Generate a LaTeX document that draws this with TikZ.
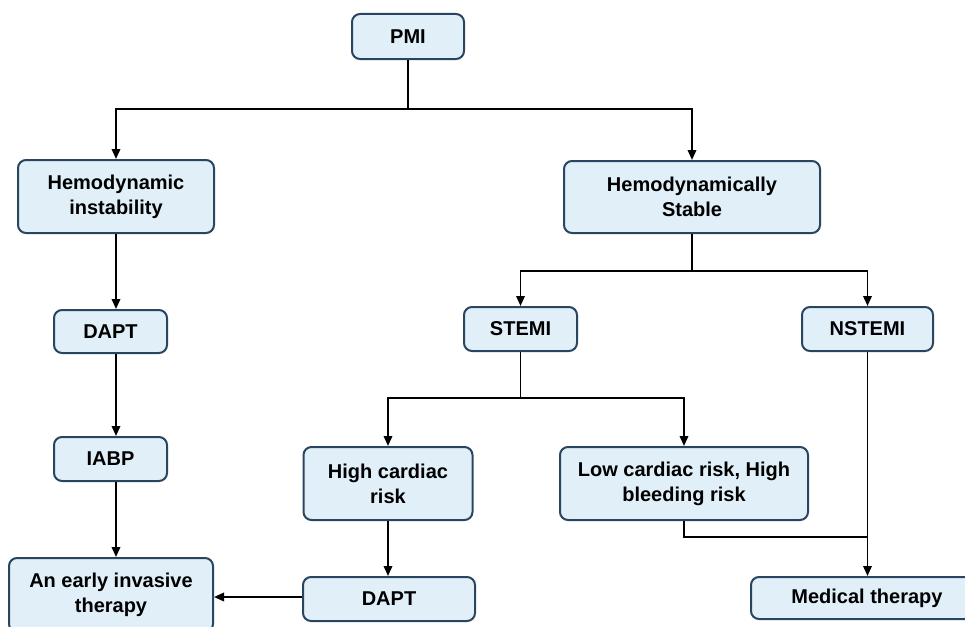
\documentclass[tikz,border=0pt]{standalone}
\usepackage{fontspec}
\setmainfont{Liberation Sans}
\usetikzlibrary{arrows.meta}
\definecolor{boxfill}{HTML}{E1F0F8}
\definecolor{boxline}{HTML}{2A4560}
\tikzset{
  box/.style={draw=boxline, line width=2pt, fill=boxfill, rounded corners=8pt,
    inner sep=0pt, align=center, font=\bfseries\fontsize{20}{25}\selectfont},
  ln/.style={line width=1.9pt, draw=black},
  arr/.style={ln, -{Triangle[length=10pt,width=8.5pt]}}
}
\begin{document}
\begin{tikzpicture}[x=1pt,y=-1pt]
\useasboundingbox (0,0) rectangle (965,626);
\node[box, minimum width=112pt, minimum height=45pt] (pmi) at (408,36.5) {PMI};
\node[box, minimum width=196pt, minimum height=73pt] (hi) at (116,196.5) {Hemodynamic\\instability};
\node[box, minimum width=256pt, minimum height=72pt] (hs) at (692,197) {Hemodynamically\\Stable};
\node[box, minimum width=113pt, minimum height=43pt] (dapt1) at (110.5,331.5) {DAPT};
\node[box, minimum width=113pt, minimum height=44pt] (stemi) at (520.5,329) {STEMI};
\node[box, minimum width=131pt, minimum height=44pt] (nstemi) at (867.5,329) {NSTEMI};
\node[box, minimum width=113pt, minimum height=44pt] (iabp) at (110.5,459) {IABP};
\node[box, minimum width=169pt, minimum height=73pt] (hc) at (388,483.5) {High cardiac\\risk};
\node[box, minimum width=248pt, minimum height=73pt] (lc) at (684,483.5) {Low cardiac risk, High\\bleeding risk};
\node[box, minimum width=204pt, minimum height=74pt] (early) at (111,595) {An early invasive\\therapy};
\node[box, minimum width=172pt, minimum height=44pt] (dapt2) at (389,599) {DAPT};
\node[box, minimum width=232pt, minimum height=42pt] (mt) at (867,598) {Medical therapy};
\coordinate (L) at (116,0);
\coordinate (b1) at (0,109);
\coordinate (b2) at (0,271);
\coordinate (b3) at (0,398);
\coordinate (b4) at (0,537);
% PMI split
\draw[ln] (pmi.south) -- (pmi.south |- b1);
\draw[arr] (pmi.south |- b1) -| (hi.north);
\draw[arr] (pmi.south |- b1) -| (hs.north);
% left chain
\draw[arr] (hi.south -| L) -- (dapt1.north -| L);
\draw[arr] (dapt1.south -| L) -- (iabp.north -| L);
\draw[arr] (iabp.south -| L) -- (early.north -| L);
% stable split
\draw[ln] (hs.south) -- (hs.south |- b2);
\draw[arr] (hs.south |- b2) -| (stemi.north);
\draw[arr] (hs.south |- b2) -| (nstemi.north);
% stemi split
\draw[ln] (stemi.south) -- (stemi.south |- b3);
\draw[arr] (stemi.south |- b3) -| (hc.north);
\draw[arr] (stemi.south |- b3) -| (lc.north);
% high cardiac
\draw[arr] (hc.south) -- (hc.south |- dapt2.north);
\draw[arr] (dapt2.west |- 0,597) -- (early.east |- 0,597);
% low cardiac and nstemi to medical therapy
\draw[ln] (lc.south) |- (nstemi.south |- b4);
\draw[arr] (nstemi.south) -- (nstemi.south |- mt.north);
\end{tikzpicture}
\end{document}
